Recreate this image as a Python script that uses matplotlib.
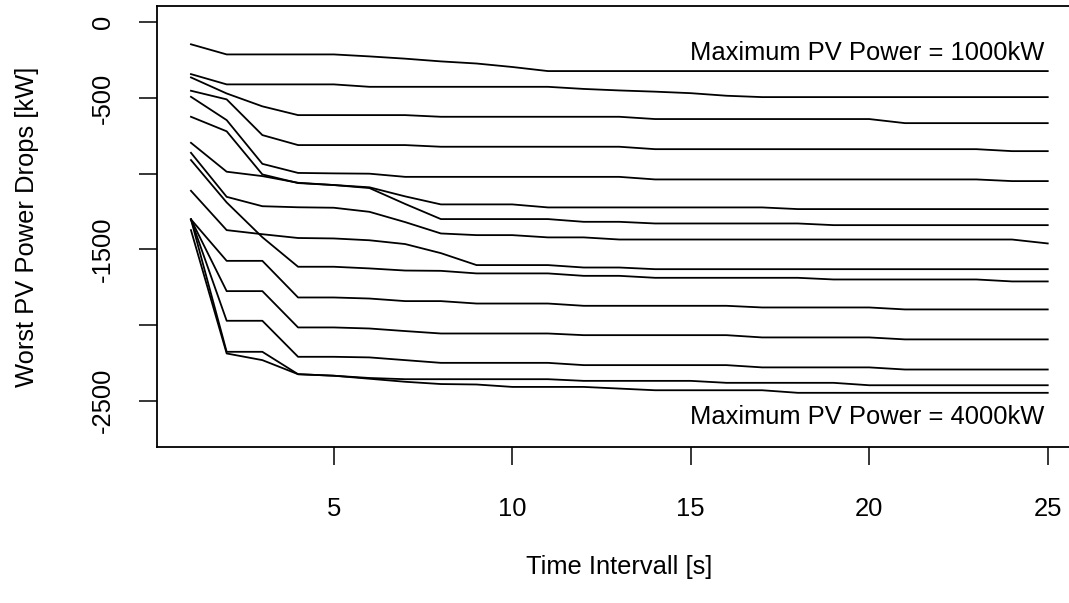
import matplotlib.pyplot as plt
import numpy as np

plt.rcParams['font.family'] = ['Liberation Sans', 'DejaVu Sans']

# time interval [s]
interval = list(range(1, 26))

# worst PV power drops [kW], one curve per plant size (1000kW on top ... 4000kW at the bottom)
drop_01 = [-145, -212, -212, -212, -212, -225, -240, -258, -272, -295, -322, -322, -322,
           -322, -322, -322, -322, -322, -322, -322, -322, -322, -322, -322, -322]
drop_02 = [-342, -410, -410, -410, -410, -426, -426, -426, -426, -426, -426, -440, -450,
           -458, -468, -485, -494, -494, -494, -494, -494, -494, -494, -494, -494]
drop_03 = [-364, -470, -555, -613, -613, -613, -613, -624, -624, -624, -624, -624, -624,
           -639, -639, -639, -639, -639, -639, -639, -666, -666, -666, -666, -666]
drop_04 = [-452, -509, -745, -811, -811, -811, -811, -822, -822, -822, -822, -822, -822,
           -838, -838, -838, -838, -838, -838, -838, -838, -838, -838, -851, -851]
drop_05 = [-492, -646, -935, -995, -998, -1000, -1021, -1021, -1021, -1021, -1021, -1021, -1021,
           -1038, -1038, -1038, -1038, -1038, -1038, -1038, -1038, -1038, -1038, -1049, -1049]
drop_06 = [-624, -720, -1005, -1062, -1075, -1090, -1150, -1203, -1203, -1203, -1223, -1223, -1223,
           -1223, -1223, -1223, -1223, -1234, -1234, -1234, -1234, -1234, -1234, -1234, -1234]
drop_07 = [-796, -987, -1016, -1060, -1075, -1095, -1200, -1300, -1300, -1300, -1300, -1318, -1318,
           -1329, -1329, -1329, -1329, -1329, -1340, -1340, -1340, -1340, -1340, -1340, -1340]
drop_08 = [-862, -1153, -1215, -1222, -1225, -1252, -1320, -1395, -1406, -1406, -1421, -1421, -1435,
           -1435, -1435, -1435, -1435, -1435, -1435, -1435, -1435, -1435, -1435, -1435, -1461]
drop_09 = [-1113, -1373, -1400, -1425, -1428, -1440, -1465, -1525, -1604, -1604, -1604, -1620, -1620,
           -1631, -1631, -1631, -1631, -1631, -1631, -1631, -1631, -1631, -1631, -1631, -1631]
drop_10 = [-910, -1190, -1420, -1615, -1615, -1626, -1640, -1642, -1659, -1659, -1659, -1675, -1675,
           -1688, -1688, -1688, -1688, -1688, -1699, -1699, -1699, -1699, -1699, -1712, -1712]
drop_11 = [-1302, -1576, -1576, -1818, -1818, -1825, -1842, -1842, -1858, -1858, -1858, -1873, -1873,
           -1873, -1873, -1873, -1884, -1884, -1884, -1884, -1897, -1897, -1897, -1897, -1897]
drop_12 = [-1302, -1776, -1776, -2016, -2016, -2023, -2040, -2056, -2056, -2056, -2056, -2067, -2067,
           -2067, -2067, -2067, -2082, -2082, -2082, -2082, -2095, -2095, -2095, -2095, -2095]
drop_13 = [-1302, -1972, -1972, -2210, -2210, -2214, -2232, -2250, -2250, -2250, -2250, -2265, -2265,
           -2265, -2265, -2265, -2280, -2280, -2280, -2280, -2294, -2294, -2294, -2294, -2294]
drop_14 = [-1302, -2177, -2177, -2325, -2335, -2350, -2358, -2358, -2358, -2358, -2358, -2369, -2369,
           -2369, -2369, -2382, -2382, -2382, -2382, -2398, -2398, -2398, -2398, -2398, -2398]
drop_15 = [-1373, -2188, -2232, -2325, -2335, -2355, -2375, -2390, -2393, -2409, -2409, -2409, -2420,
           -2431, -2431, -2431, -2431, -2448, -2448, -2448, -2448, -2448, -2448, -2448, -2448]

drops = [drop_01, drop_02, drop_03, drop_04, drop_05, drop_06, drop_07, drop_08,
         drop_09, drop_10, drop_11, drop_12, drop_13, drop_14, drop_15]

xticks = [5, 10, 15, 20, 25]
yticks = [0, -500, -1000, -1500, -2000, -2500]
ytick_labels = ['0', '-500', '', '-1500', '', '-2500']

fs = 18.4
W, H = 1069, 603
fig = plt.figure(figsize=(W / 100, H / 100), dpi=100)
# R-style box, right edge falls outside the saved picture
ax = fig.add_axes([156.7 / W, 1 - 447.3 / H, (1082 - 156.7) / W, (447.3 - 6) / H])

for d in drops:
    ax.plot(interval, d, color='black', lw=1.3)

ax.set_xlim(0.04, 25.96)
ax.set_ylim(-2808, 108)

ax.set_xticks(xticks)
ax.set_xticklabels([str(t) for t in xticks], fontsize=fs)
ax.set_yticks(yticks)
ax.set_yticklabels(ytick_labels, fontsize=fs, rotation=90, va='center')
ax.tick_params(axis='both', length=13, width=1.1, color='black')
ax.tick_params(axis='x', pad=23)
ax.tick_params(axis='y', pad=17)
for s in ax.spines.values():
    s.set_linewidth(1.3)

ax.text(24.9, -200, 'Maximum PV Power = 1000kW', ha='right', va='center', fontsize=fs)
ax.text(24.9, -2610, 'Maximum PV Power = 4000kW', ha='right', va='center', fontsize=fs)

fig.text(26.7 / W, 1 - 226.6 / H, 'Worst PV Power Drops [kW]', rotation=90,
         ha='center', va='center', fontsize=fs)
fig.text(619 / W, 1 - 567 / H, 'Time Intervall [s]', ha='center', va='center', fontsize=fs)

fig.savefig('out.png', dpi=100)
